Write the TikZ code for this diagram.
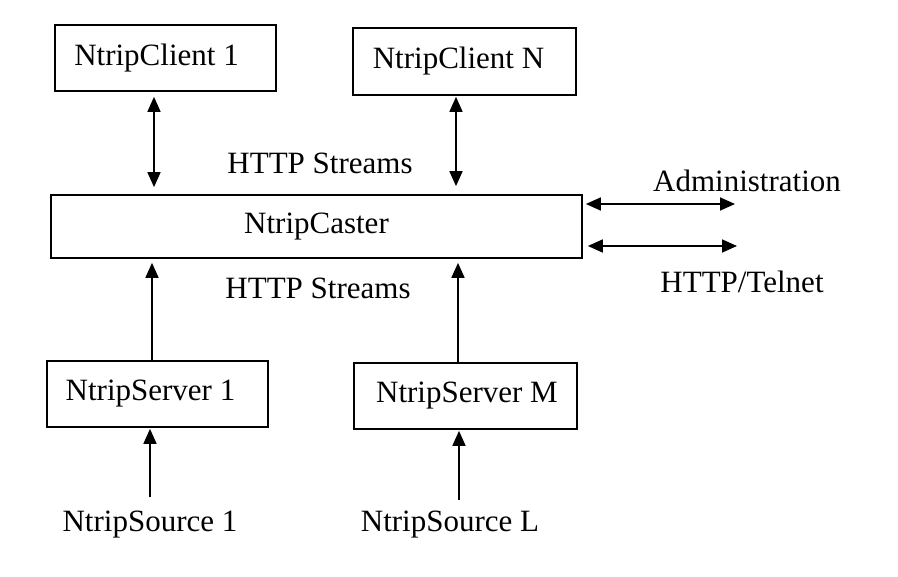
\documentclass[tikz,border=0pt]{standalone}
\usepackage{fontspec}
\setmainfont{Liberation Serif}
\usetikzlibrary{arrows.meta}
\begin{document}
\begin{tikzpicture}[x=1pt,y=-1pt,
  every node/.style={font=\fontsize{31}{36}\selectfont},
  box/.style={draw, line width=1.7pt, inner sep=0pt},
  lbl/.style={inner sep=0pt},
  conn/.style={line width=1.7pt, -{Triangle[length=15pt,width=13pt]}},
  dbl/.style={line width=1.7pt, {Triangle[length=15pt,width=13pt]}-{Triangle[length=15pt,width=13pt]}}]
\useasboundingbox[fill=white] (0,0) rectangle (898,577);
% boxes
\node[box, minimum width=221pt, minimum height=66pt] (client1) at (165.5,58) {\hspace*{-18pt}NtripClient 1};
\node[box, minimum width=223pt, minimum height=67pt] (clientN) at (464.5,61.5) {\hspace*{-12pt}NtripClient N};
\node[box, minimum width=531pt, minimum height=63pt] (caster) at (316.5,226.5) {NtripCaster};
\node[box, minimum width=221pt, minimum height=66pt] (server1) at (157.5,394) {\hspace*{-14pt}NtripServer 1};
\node[box, minimum width=223pt, minimum height=66pt] (serverM) at (465.5,396) {\hspace*{3pt}NtripServer M};
% sources
\node[lbl, anchor=base] (src1) at (150,532) {NtripSource 1};
\node[lbl, anchor=base] (srcL) at (450,532) {NtripSource L};
% labels
\node[lbl] (hs1) at (320,163) {HTTP Streams};
\node[lbl] (hs2) at (318,288) {HTTP Streams};
\node[lbl] (adm) at (747,181) {Administration};
\node[lbl] (tel) at (742,282) {HTTP/Telnet};
% client arrows
\draw[dbl, shorten <=5pt, shorten >=7pt] ([xshift=-11.5pt]client1.south) -- ([xshift=-11.5pt]client1.south |- caster.north);
\draw[dbl, shorten <=1pt, shorten >=8pt] ([xshift=-8.5pt]clientN.south) -- ([xshift=-8.5pt]clientN.south |- caster.north);
% server arrows
\draw[conn, shorten >=4pt] ([xshift=-5.5pt]server1.north) -- ([xshift=-5.5pt]server1.north |- caster.south);
\draw[conn, shorten >=4pt] ([xshift=-7.5pt]serverM.north) -- ([xshift=-7.5pt]serverM.north |- caster.south);
% source arrows
\draw[conn, shorten <=14pt, shorten >=1pt] (src1.north) -- (src1.north |- server1.south);
\draw[conn, shorten <=11pt, shorten >=1pt] ([xshift=9pt]srcL.north) -- ([xshift=9pt]srcL.north |- serverM.south);
% admin arrows
\coordinate (a1) at (735,204);
\coordinate (a2) at (737,246);
\draw[dbl, shorten <=3pt] (caster.east |- a1) -- (a1);
\draw[dbl, shorten <=5pt] (caster.east |- a2) -- (a2);
\end{tikzpicture}
\end{document}
